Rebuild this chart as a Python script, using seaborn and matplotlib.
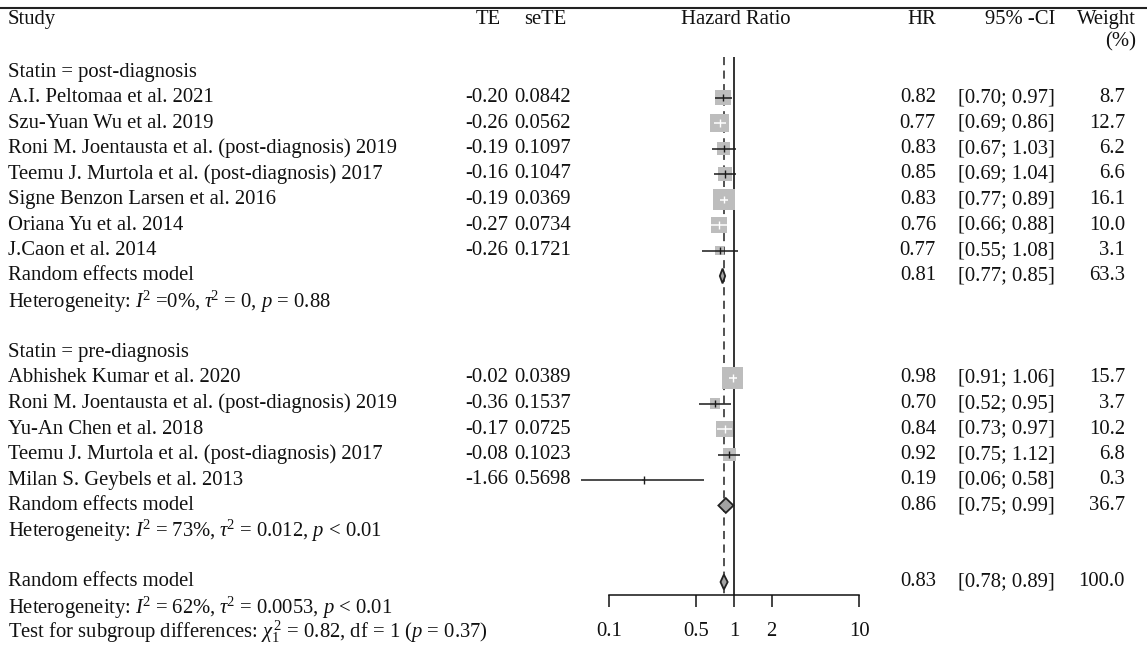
import numpy as np
import pandas as pd
import matplotlib
matplotlib.use("Agg")
import matplotlib.pyplot as plt
import seaborn as sns

# ---------------- data ----------------
post_studies = ["A.I. Peltomaa et al. 2021", "Szu-Yuan Wu et al. 2019",
                "Roni M. Joentausta et al. (post-diagnosis) 2019",
                "Teemu J. Murtola et al. (post-diagnosis) 2017",
                "Signe Benzon Larsen et al. 2016", "Oriana Yu et al. 2014",
                "J.Caon et al. 2014"]
post_te = [-0.20, -0.26, -0.19, -0.16, -0.19, -0.27, -0.26]
post_sete = [0.0842, 0.0562, 0.1097, 0.1047, 0.0369, 0.0734, 0.1721]
post_hr = [0.82, 0.77, 0.83, 0.85, 0.83, 0.76, 0.77]
post_lo = [0.70, 0.69, 0.67, 0.69, 0.77, 0.66, 0.55]
post_hi = [0.97, 0.86, 1.03, 1.04, 0.89, 0.88, 1.08]
post_w = [8.7, 12.7, 6.2, 6.6, 16.1, 10.0, 3.1]

pre_studies = ["Abhishek Kumar et al. 2020",
               "Roni M. Joentausta et al. (post-diagnosis) 2019",
               "Yu-An Chen et al. 2018",
               "Teemu J. Murtola et al. (post-diagnosis) 2017",
               "Milan S. Geybels et al. 2013"]
pre_te = [-0.02, -0.36, -0.17, -0.08, -1.66]
pre_sete = [0.0389, 0.1537, 0.0725, 0.1023, 0.5698]
pre_hr = [0.98, 0.70, 0.84, 0.92, 0.19]
pre_lo = [0.91, 0.52, 0.73, 0.75, 0.06]
pre_hi = [1.06, 0.95, 0.97, 1.12, 0.58]
pre_w = [15.7, 3.7, 10.2, 6.8, 0.3]

# random effects summaries: (HR, lower, upper, weight)
post_re = [0.81, 0.77, 0.85, 63.3]
pre_re = [0.86, 0.75, 0.99, 36.7]
all_re = [0.83, 0.78, 0.89, 100.0]

group_labels = ["Statin = post-diagnosis", "Statin = pre-diagnosis"]
post_het = r"Heterogeneity: $I^{\!2}$ =0%, $\tau^{\!2}$ = 0, $p$ = 0.88"
pre_het = r"Heterogeneity: $I^{\!2}$ = 73%, $\tau^{\!2}$ = 0.012, $p$ < 0.01"
all_het = r"Heterogeneity: $I^{\!2}$ = 62%, $\tau^{\!2}$ = 0.0053, $p$ < 0.01"
test_txt = r"Test for subgroup differences: $\chi_1^{\,2}$ = 0.82, df = 1 ($p$ = 0.37)"
re_label = "Random effects model"
headers = ["Study", "TE", "seTE", "Hazard Ratio", "HR", "95% -CI", "Weight", "(%)"]
tick_vals = [0.1, 0.5, 1, 2, 10]
tick_labels = ["0.1", "0.5", "1", "2", "10"]
null_value = 1.0

# ---------------- style ----------------
sns.set_theme(style="white")
plt.rcParams["font.family"] = ["Liberation Serif", "DejaVu Serif"]
plt.rcParams["mathtext.fontset"] = "custom"
plt.rcParams["mathtext.rm"] = "Liberation Serif"
plt.rcParams["mathtext.it"] = "Liberation Serif:italic"
plt.rcParams["mathtext.bf"] = "Liberation Serif:bold"
FS = 14.9
TXT = "#111111"
VA = "center"

W, H = 1147, 646
ROW0_PX, ROW_PX = 72.0, 25.5
X_NULL_PX, DEC_PX = 734.0, 125.0
y_top = -ROW0_PX / ROW_PX
y_bot = (H - ROW0_PX) / ROW_PX
def px2row(p):
    return (p - ROW0_PX) / ROW_PX

# row layout
post_rows = list(range(1, 1 + len(post_studies)))
post_re_row = post_rows[-1] + 1
pre_head_row = post_re_row + 3
pre_rows = list(range(pre_head_row + 1, pre_head_row + 1 + len(pre_studies)))
pre_re_row = pre_rows[-1] + 1
all_re_row = pre_re_row + 3

fig = plt.figure(figsize=(W / 100, H / 100), dpi=100)
ax_t = fig.add_axes([0, 0, 1, 1])
ax_t.set_xlim(0, W)
ax_t.set_ylim(y_bot, y_top)
ax_t.axis("off")

ax_f = fig.add_axes([0, 0, 1, 1])
ax_f.set_facecolor("none")
ax_f.set_xscale("log")
ax_f.set_xlim(10 ** (-X_NULL_PX / DEC_PX), 10 ** ((W - X_NULL_PX) / DEC_PX))
ax_f.set_ylim(y_bot, y_top)

# column positions (pixels)
X_STUDY = 8
X_TE, X_TEH = 508, 501
X_SE, X_SEH = 571, 566
X_HRC = 736
X_HR = 936
X_CI = 1055
X_W, X_WH = 1125, 1136

# ---------------- header ----------------
hy = px2row(19.5)
ax_t.plot([0, W], [px2row(7.5)] * 2, color="#222222", lw=1.5, solid_capstyle="butt")
ax_t.text(X_STUDY, hy, headers[0], ha="left", va=VA, fontsize=FS, color=TXT)
ax_t.text(X_TEH, hy, headers[1], ha="right", va=VA, fontsize=FS, color=TXT)
ax_t.text(X_SEH, hy, headers[2], ha="right", va=VA, fontsize=FS, color=TXT)
ax_t.text(X_HRC, hy, headers[3], ha="center", va=VA, fontsize=FS, color=TXT)
ax_t.text(X_HR, hy, headers[4], ha="right", va=VA, fontsize=FS, color=TXT)
ax_t.text(X_CI, hy, headers[5], ha="right", va=VA, fontsize=FS, color=TXT)
ax_t.text(X_WH, hy, headers[6], ha="right", va=VA, fontsize=FS, color=TXT)
ax_t.text(X_WH, px2row(42), headers[7], ha="right", va=VA, fontsize=FS, color=TXT)

def txt(x, r, s, ha="left"):
    ax_t.text(x, r, s, ha=ha, va=VA, fontsize=FS, color=TXT)

def study_rows(rows, names, te, se, hr, lo, hi, w):
    for r, n, a, b, c, d, e, f in zip(rows, names, te, se, hr, lo, hi, w):
        txt(X_STUDY, r, n)
        txt(X_TE, r, f"{a:.2f}", "right")
        txt(X_SE, r, f"{b:.4f}", "right")
        txt(X_HR, r, f"{c:.2f}", "right")
        txt(X_CI, r, f"[{d:.2f}; {e:.2f}]", "right")
        txt(X_W, r, f"{f:.1f}", "right")

def summary_row(r, vals, het_text):
    txt(X_STUDY, r, re_label)
    txt(X_HR, r, f"{vals[0]:.2f}", "right")
    txt(X_CI, r, f"[{vals[1]:.2f}; {vals[2]:.2f}]", "right")
    txt(X_W, r, f"{vals[3]:.1f}", "right")
    txt(X_STUDY, r + 1, het_text)

txt(X_STUDY, 0, group_labels[0])
study_rows(post_rows, post_studies, post_te, post_sete, post_hr, post_lo, post_hi, post_w)
summary_row(post_re_row, post_re, post_het)
txt(X_STUDY, pre_head_row, group_labels[1])
study_rows(pre_rows, pre_studies, pre_te, pre_sete, pre_hr, pre_lo, pre_hi, pre_w)
summary_row(pre_re_row, pre_re, pre_het)
summary_row(all_re_row, all_re, all_het)
txt(X_STUDY, all_re_row + 1.95, test_txt)

# ---------------- forest ----------------
df = pd.DataFrame({
    "row": post_rows + pre_rows,
    "HR": post_hr + pre_hr,
    "lo": post_lo + pre_lo,
    "hi": post_hi + pre_hi,
    "weight": post_w + pre_w,
})
K = 5.3  # px of square side per sqrt(weight)
wmax = df["weight"].max()
smax = (K * np.sqrt(wmax) * 72 / 100) ** 2
sns.scatterplot(data=df, x="HR", y="row", size="weight", sizes=(0, smax),
                size_norm=(0, wmax), marker="s", color="#bdbdbd", linewidth=0,
                legend=False, ax=ax_f, zorder=2)
ax_f.set_xlabel("")
ax_f.set_ylabel("")

axis_row = px2row(595)
line_top = px2row(57)
ax_f.vlines(null_value, line_top, axis_row, color="#111111", lw=1.2, zorder=1)
ax_f.vlines(all_re[0], line_top, axis_row, color="#444444", lw=1.3,
            linestyles=(0, (4.5, 3)), zorder=1)

for _, d in df.iterrows():
    half = K * np.sqrt(d["weight"]) / 2
    left = DEC_PX * np.log10(d["HR"] / d["lo"])
    right = DEC_PX * np.log10(d["hi"] / d["HR"])
    inside = left <= half and right <= half
    col = "white" if inside else "#1a1a1a"
    ax_f.hlines(d["row"], d["lo"], d["hi"], color=col, lw=1.1, zorder=3)
    ax_f.vlines(d["HR"], d["row"] - 0.15, d["row"] + 0.15, color=col, lw=1.0, zorder=3)

dh = 0.29
for r, v in [(post_re_row, post_re), (pre_re_row, pre_re), (all_re_row, all_re)]:
    ax_f.fill([v[1], v[0], v[2], v[0]], [r, r - dh, r, r + dh],
              facecolor="#a3a3a3", edgecolor="#222222", lw=1.3, zorder=4)

for s in ["top", "left", "right"]:
    ax_f.spines[s].set_visible(False)
ax_f.spines["bottom"].set_position(("data", axis_row))
ax_f.spines["bottom"].set_bounds(tick_vals[0], tick_vals[-1])
ax_f.spines["bottom"].set_color("#111111")
ax_f.spines["bottom"].set_linewidth(1.1)
ax_f.set_xticks(tick_vals)
ax_f.set_xticklabels(tick_labels)
ax_f.xaxis.set_minor_locator(matplotlib.ticker.NullLocator())
ax_f.tick_params(axis="x", which="major", direction="out", length=8.6, width=1.1,
                 color="#111111", pad=10.5, labelsize=FS, labelcolor=TXT, bottom=True)
ax_f.set_yticks([])
ax_f.grid(False)

fig.savefig("out.png", dpi=100)
